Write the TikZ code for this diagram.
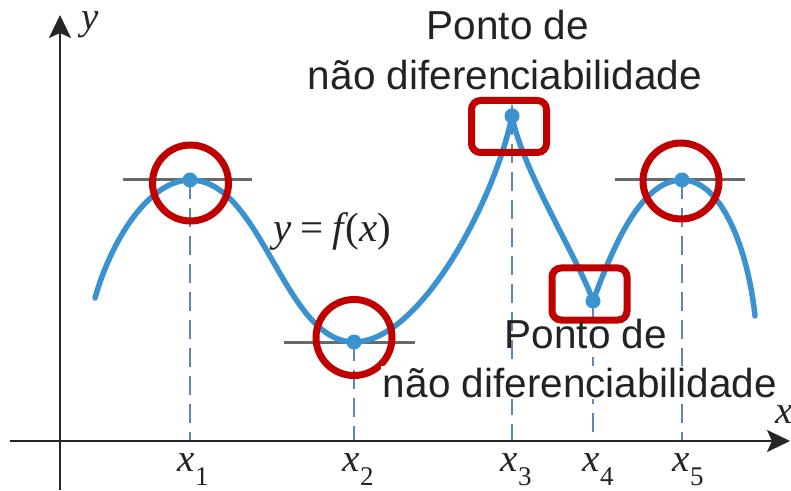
\documentclass[tikz,border=0pt]{standalone}
\usepackage{fontspec}
\setmainfont{Liberation Sans}
\newfontfamily\serifrm{Liberation Serif}
\usetikzlibrary{arrows.meta}
\definecolor{curveblue}{RGB}{58,146,208}
\definecolor{markred}{RGB}{192,0,0}
\definecolor{dashblue}{RGB}{95,135,175}
\definecolor{tangray}{RGB}{105,105,105}
\definecolor{textgray}{RGB}{35,35,35}
\newcommand\mylab[1]{{\serifrm\itshape x}\kern0.5pt\raisebox{-14pt}{\serifrm\fontsize{27}{27}\selectfont #1}}
\tikzset{
  axisline/.style={line width=2.5pt, black!85, -{Stealth[length=23pt,width=22pt,inset=5pt]}},
  curveline/.style={line width=5.5pt, curveblue, line cap=round},
  dashline/.style={line width=1.6pt, dashblue, dash pattern=on 19pt off 9pt},
  tanline/.style={line width=3pt, tangray},
  dotnode/.style={circle, fill=curveblue, inner sep=0pt, minimum size=15pt},
  redcirc/.style={circle, draw=markred, line width=7pt, inner sep=0pt, minimum size=76pt},
  redbox/.style={rectangle, draw=markred, line width=7pt, rounded corners=9pt, inner sep=0pt, minimum width=75pt, minimum height=52pt},
  sanslab/.style={font=\fontsize{40.5}{40.5}\selectfont, text=textgray, inner sep=0pt, anchor=base},
  mathlab/.style={font=\fontsize{39}{39}\selectfont, text=textgray, inner sep=0pt, anchor=base west}
}
\begin{document}
\begin{tikzpicture}[x=1pt,y=1pt]
\useasboundingbox (0,0) rectangle (791,490);
% axes
\coordinate (O) at (60,49);
\coordinate (xs) at (10,49);
\coordinate (xe) at (790,49);
\coordinate (ys) at (60,0);
\coordinate (ye) at (60,475);
% points
\coordinate (p1) at (190,310);
\coordinate (p2) at (354,148);
\coordinate (p3) at (512,374);
\coordinate (p4) at (593,189);
\coordinate (p5) at (682,310);
% dashed verticals
\foreach \p in {p1,p2,p3,p4,p5} \draw[dashline] (\p) -- (\p |- O);
% tangent lines
\draw[tanline] (123,310) -- (252,310);
\draw[tanline] (284,148) -- (415,148);
\draw[tanline] (615,310) -- (745,310);
% axes lines
\draw[axisline] (xs) -- (xe);
\draw[axisline] (ys) -- (ye);
% curve
\draw[curveline] (95,192) .. controls (112,252) and (150,310) .. (p1)
  .. controls (262,310) and (284,148) .. (p2)
  .. controls (420,148) and (495,290) .. (p3)
  .. controls (522,320) and (580,228) .. (p4)
  .. controls (612,240) and (640,310) .. (p5)
  .. controls (722,310) and (748,240) .. (755,174);
\foreach \p in {p1,p2,p3,p4,p5} \node[dotnode] (d\p) at (\p) {};
% red marks
\node[redcirc] (c1) at (190.5,307) {};
\node[redcirc] (c2) at (354,152.5) {};
\node[redcirc] (c5) at (681,309) {};
\node[redbox] (b3) at (509,363.5) {};
\node[redbox] (b4) at (589.5,196) {};
% labels
\node[sanslab] (t1) at (508,450) {Ponto de};
\node[sanslab] (t2) at (505,400) {não diferenciabilidade};
\node[sanslab] (u1) at (586,142) {Ponto de};
\node[sanslab, fill=white, inner sep=2pt] (u2) at (580,93) {não diferenciabilidade};
\node[mathlab, font=\fontsize{41}{41}\selectfont] (fl) at (273,248) {{\serifrm\itshape y}\hspace{9pt}{\serifrm =}\hspace{9pt}{\serifrm\itshape f}\hspace{2pt}{\serifrm(}{\serifrm\itshape x}{\serifrm)}};
\node[mathlab] (yl) at (81,460) {{\serifrm\itshape y}};
\node[mathlab] (xl) at (775,67) {{\serifrm\itshape x}};
\node[mathlab] (l1) at (177,19) {\mylab{1}};
\node[mathlab] (l2) at (342,19) {\mylab{2}};
\node[mathlab] (l3) at (500,19) {\mylab{3}};
\node[mathlab] (l4) at (582,19) {\mylab{4}};
\node[mathlab] (l5) at (672,19) {\mylab{5}};
\end{tikzpicture}
\end{document}
